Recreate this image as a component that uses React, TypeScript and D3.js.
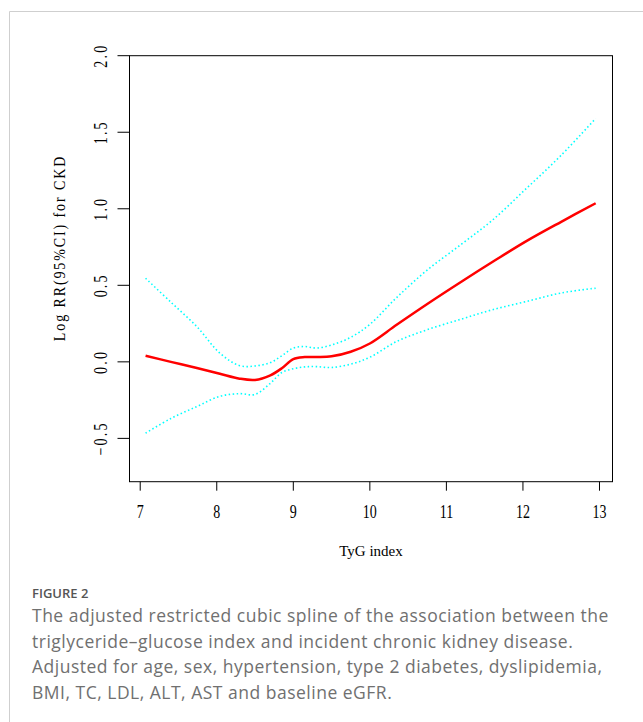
import * as d3 from 'd3';

// TyG index grid and the fitted spline (log RR) with 95% CI
const tyg = [7.07, 7.4, 7.74, 8.04, 8.3, 8.5, 8.7, 8.85, 9.0, 9.15, 9.3, 9.5, 9.75, 10.0, 10.35, 10.75, 11.2, 11.6, 12.05, 12.5, 12.95];
const logRR = [0.04, 0.0, -0.04, -0.078, -0.11, -0.118, -0.088, -0.042, 0.018, 0.031, 0.032, 0.036, 0.066, 0.12, 0.242, 0.378, 0.525, 0.652, 0.79, 0.915, 1.036];
const ciUpper = [0.546, 0.39, 0.23, 0.057, -0.025, -0.027, -0.005, 0.04, 0.09, 0.1, 0.09, 0.11, 0.16, 0.245, 0.42, 0.6, 0.77, 0.925, 1.135, 1.35, 1.59];
const ciLower = [-0.466, -0.37, -0.292, -0.225, -0.208, -0.213, -0.14, -0.07, -0.045, -0.033, -0.031, -0.037, -0.015, 0.03, 0.133, 0.21, 0.28, 0.34, 0.395, 0.45, 0.481];

const xTicks = [7, 8, 9, 10, 11, 12, 13];
const yTicks = [-0.5, 0, 0.5, 1, 1.5, 2];

const captionTitle = 'FIGURE 2';
const captionLines = [
  'The adjusted restricted cubic spline of the association between the',
  'triglyceride\u2013glucose index and incident chronic kidney disease.',
  'Adjusted for age, sex, hypertension, type 2 diabetes, dyslipidemia,',
  'BMI, TC, LDL, ALT, AST and baseline eGFR.',
];

const width = 643;
const height = 722;

export default function App() {
  const x = d3.scaleLinear().domain([6.86, 13.17]).range([129.5, 612.5]);
  const y = d3.scaleLinear().domain([-0.783, 2.0]).range([481.7, 55.7]);

  const line = (vals: number[]) =>
    d3
      .line<number>()
      .x((d, i) => x(tyg[i]))
      .y(d => y(d))
      .curve(d3.curveCatmullRom)(vals) || '';

  const [x0, x1] = x.range();
  const [y0, y1] = y.range();

  return (
    <svg
      width={width}
      height={height}
      style={{position: 'absolute', left: 0, top: 0, background: '#fff'}}
    >
      {/* card border */}
      <path d={`M9.5,${height}V11.5H${width}`} fill="none" stroke="#cfcfcf" strokeWidth={1} />

      {/* plot box */}
      <rect x={x0} y={y1} width={x1 - x0} height={y0 - y1} fill="none" stroke="#000" strokeWidth={1} />

      {/* y axis */}
      {yTicks.map(t => (
        <g key={'y' + t}>
          <line x1={x0 - 12} x2={x0} y1={y(t)} y2={y(t)} stroke="#000" />
          <text
            transform={`translate(106.5,${y(t)}) rotate(-90) scale(1,1.3)`}
            textAnchor="middle"
            fontFamily="Liberation Serif"
            fontSize={14}
            letterSpacing={2.2}
            fill="#000"
          >
            {t === 0 ? '0.0' : t < 0 ? '\u2212' + Math.abs(t).toFixed(1) : t.toFixed(1)}
          </text>
        </g>
      ))}
      <text
        transform={`translate(64.5,248) rotate(-90) scale(1,1.2)`}
        textAnchor="middle"
        fontFamily="Liberation Serif"
        fontSize={14}
        letterSpacing={1.9}
        fill="#000"
      >
        Log RR(95%CI) for CKD
      </text>

      {/* x axis */}
      {xTicks.map(t => (
        <g key={'x' + t}>
          <line x1={x(t)} x2={x(t)} y1={y0} y2={y0 + 9} stroke="#000" />
          <text
            transform={`translate(${x(t)},518) scale(1,1.35)`}
            textAnchor="middle"
            fontFamily="Liberation Serif"
            fontSize={14}
            fill="#000"
          >
            {t}
          </text>
        </g>
      ))}
      <text x={(x0 + x1) / 2} y={556} textAnchor="middle" fontFamily="Liberation Serif" fontSize={15} fill="#000">
        TyG index
      </text>

      {/* CI bands */}
      <path d={line(ciUpper)} fill="none" stroke="#00ffff" strokeWidth={1.6} strokeDasharray="1.5,2.5" />
      <path d={line(ciLower)} fill="none" stroke="#00ffff" strokeWidth={1.6} strokeDasharray="1.5,2.5" />
      {/* estimate */}
      <path d={line(logRR)} fill="none" stroke="#ff0000" strokeWidth={2.5} />

      {/* caption */}
      <text x={32} y={598} fontFamily="Open Sans" fontWeight={600} fontSize={13} fill="#555">
        {captionTitle}
      </text>
      {captionLines.map((s, i) => (
        <text key={i} x={32} y={622 + i * 25.5} fontFamily="Open Sans" fontSize={17.5} letterSpacing={0.5} fill="#707070">
          {s}
        </text>
      ))}
    </svg>
  );
}
